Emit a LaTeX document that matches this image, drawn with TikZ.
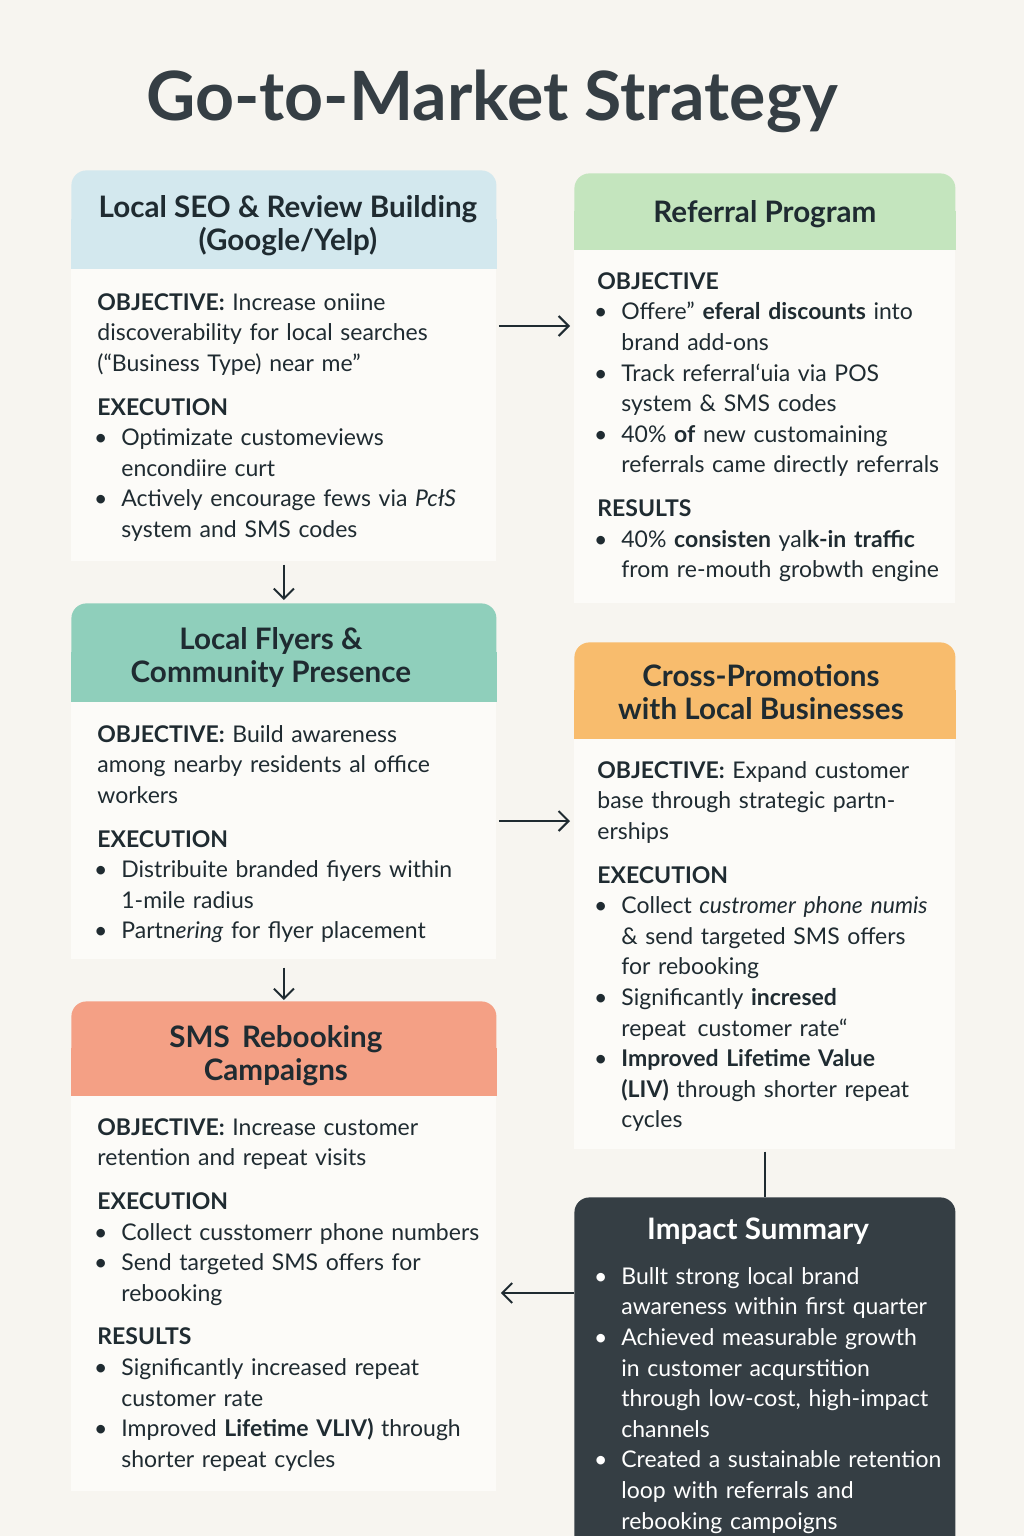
\documentclass[tikz,border=0pt]{standalone}
\usepackage{fontspec}
\setmainfont{Lato}
\usepackage{tikz}
\usepackage{xcolor}
\usetikzlibrary{arrows.meta, positioning, calc}
\definecolor{GTM_Page}{HTML}{F7F5F0}
\definecolor{GTM_Card}{HTML}{FCFBF8}
\definecolor{GTM_Ink}{HTML}{1F2B31}
\definecolor{GTM_Sky}{HTML}{D3E8EE}
\definecolor{GTM_Mint}{HTML}{C4E5BE}
\definecolor{GTM_Teal}{HTML}{8FCFBB}
\definecolor{GTM_Amber}{HTML}{F8BC6D}
\definecolor{GTM_Salmon}{HTML}{F4A085}
\definecolor{GTM_Slate}{HTML}{353E44}
\newcommand{\sechead}[1]{\par\vspace{6.5pt}\noindent\textbf{#1}\par}
\newcommand{\bul}[1]{\par\noindent\hangindent=12pt\hangafter=0\llap{\textbullet\hspace{7pt}}#1\par}
\newcommand{\bulfirst}[1]{\hangindent=12pt\hangafter=0\llap{\textbullet\hspace{7pt}}#1\par}

\begin{document}
\begin{tikzpicture}[x=0.5pt, y=-0.5pt,
    hdr/.style={rounded corners=7.5pt, fill=#1, inner sep=0pt, anchor=north west},
    card/.style={fill=GTM_Card, inner sep=0pt, anchor=north west},
    hdrtext/.style={align=center, text=GTM_Ink, font=\fontsize{14.8}{16.5}\selectfont\bfseries},
    bodytext/.style={anchor=north west, inner sep=0pt, text width=240pt, align=left, text=GTM_Ink, font=\fontsize{11.5}{15.3}\selectfont},
    flow/.style={draw=GTM_Ink, line width=1pt, -{Straight Barb[length=5pt, width=10pt, line width=1pt]}}]
    \useasboundingbox (0,0) rectangle (1024,1536);
    \fill[GTM_Page] (0,0) rectangle (1024,1536);
    \clip (0,0) rectangle (1024,1536);

    % title
    \node[anchor=base, text=GTM_Slate, font=\fontsize{34}{36}\selectfont\bfseries] (title) at (492,120) {Go-to-Market Strategy};

    % Local SEO
    \node[hdr=GTM_Sky, minimum width=212.5pt, minimum height=49pt] (seoH) at (71,170) {};
    \fill[GTM_Sky] (seoH.west) rectangle (seoH.south east);
    \node[card, minimum width=212.5pt, minimum height=146pt] (seoB) at (seoH.south west) {};
    \node[hdrtext] (seoL) at ([xshift=2pt, yshift=-3pt]seoH.center) {Local SEO \& Review Building\\(Google/Yelp)};
    \node[bodytext] (seoT) at (97,293) {\textbf{OBJECTIVE:} Increase oniine\newline discoverability for local searches\newline (“Business Type) near me”
        \sechead{EXECUTION}
        \bul{Optimizate customeviews\newline encondiire curt}
        \bul{Actively encourage fews via \textit{PcłS}\newline system and SMS codes}};

    % Referral Program
    \node[hdr=GTM_Mint, minimum width=190.5pt, minimum height=38pt] (refH) at (574,173) {};
    \fill[GTM_Mint] (refH.west) rectangle (refH.south east);
    \node[card, minimum width=190.5pt, minimum height=176.5pt] (refB) at (refH.south west) {};
    \node[hdrtext] (refL) at ([yshift=-1.5pt]refH.center) {Referral Program};
    \node[bodytext] (refT) at (597,272) {\textbf{OBJECTIVE}
        \bul{Offere" \textbf{eferal discounts} into\newline brand add-ons}
        \bul{Track referral‘uia via POS\newline system \& SMS codes}
        \bul{40\% \textbf{of} new customaining\newline referrals came directly referrals}
        \sechead{RESULTS}
        \bul{40\% \textbf{consisten} yal\textbf{k-in traffic}\newline from re-mouth grobwth engine}};

    % Local Flyers
    \node[hdr=GTM_Teal, minimum width=212.5pt, minimum height=49pt] (flyH) at (71,603) {};
    \fill[GTM_Teal] (flyH.west) rectangle (flyH.south east);
    \node[card, minimum width=212.5pt, minimum height=128.5pt] (flyB) at (flyH.south west) {};
    \node[hdrtext] (flyL) at ([xshift=-6.5pt, yshift=-2.5pt]flyH.center) {Local Flyers \&\\Community Presence};
    \node[bodytext] (flyT) at (97,725) {\textbf{OBJECTIVE:} Build awareness\newline among nearby residents al office\newline workers
        \sechead{EXECUTION}
        \bul{Distribuite branded fiyers within\newline 1-mile radius}
        \bul{Partn\textit{ering} for flyer placement}};

    % Cross-Promotions
    \node[hdr=GTM_Amber, minimum width=190.5pt, minimum height=48pt] (crossH) at (574,642) {};
    \fill[GTM_Amber] (crossH.west) rectangle (crossH.south east);
    \node[card, minimum width=190.5pt, minimum height=205pt] (crossB) at (crossH.south west) {};
    \node[hdrtext] (crossL) at ([xshift=-2pt, yshift=-1pt]crossH.center) {Cross-Promotions\\with Local Businesses};
    \node[bodytext] (crossT) at (597,761) {\textbf{OBJECTIVE:} Expand customer\newline base through strategic partn-\newline erships
        \sechead{EXECUTION}
        \bul{Collect \textit{custromer phone numis}\newline \& send targeted SMS offers\newline for rebooking}
        \bul{Significantly \textbf{incresed}\newline repeat\, customer rate“}
        \bul{\textbf{Improved Lifetime Value}\newline \textbf{(LIV)} through shorter repeat\newline cycles}};

    % SMS Rebooking
    \node[hdr=GTM_Salmon, minimum width=212.5pt, minimum height=47pt] (smsH) at (71,1001) {};
    \fill[GTM_Salmon] (smsH.west) rectangle (smsH.south east);
    \node[card, minimum width=212.5pt, minimum height=197.5pt] (smsB) at (smsH.south west) {};
    \node[hdrtext] (smsL) at ([xshift=-4pt, yshift=-3.5pt]smsH.center) {SMS\, Rebooking\\Campaigns};
    \node[bodytext] (smsT) at (97,1118) {\textbf{OBJECTIVE:} Increase customer\newline retention and repeat visits
        \sechead{EXECUTION}
        \bul{Collect cusstomerr phone numbers}
        \bul{Send targeted SMS offers for\newline rebooking}
        \sechead{RESULTS}
        \bul{Significantly increased repeat\newline customer rate}
        \bul{Improved \textbf{Lifetime VLIV)} through\newline shorter repeat cycles}};

    % Impact Summary
    \node[rounded corners=7.5pt, fill=GTM_Slate, inner sep=0pt, anchor=north west, minimum width=190.5pt, minimum height=185pt] (impact) at (574,1197) {};
    \node[hdrtext, text=white] (impactL) at (758,1231) {Impact Summary};
    \node[bodytext, text=white] (impactT) at (597,1267) {\bulfirst{Bullt strong local brand\newline awareness within first quarter}
        \bul{Achieved measurable growth\newline in customer acqurstition\newline through low-cost, high-impact\newline channels}
        \bul{Created a sustainable retention\newline loop with referrals and\newline rebooking campoigns}};

    % connectors
    \coordinate (row1) at (0,326);
    \coordinate (row2) at (0,821);
    \coordinate (row3) at (0,1293);
    \draw[flow, shorten <=1pt, shorten >=2pt] (seoB.east |- row1) -- (refB.west |- row1);
    \draw[flow, shorten <=1.5pt, shorten >=1.5pt] (seoB.south) -- (flyH.north);
    \draw[flow, shorten <=1pt, shorten >=2pt] (flyB.east |- row2) -- (crossB.west |- row2);
    \draw[flow, shorten <=4pt, shorten >=0.5pt] (flyB.south) -- (smsH.north);
    \draw[GTM_Ink, line width=1pt, shorten <=1pt] (crossB.south) -- (impact.north);
    \draw[flow, shorten >=2pt] (impact.west |- row3) -- (smsB.east |- row3);
\end{tikzpicture}
\end{document}
